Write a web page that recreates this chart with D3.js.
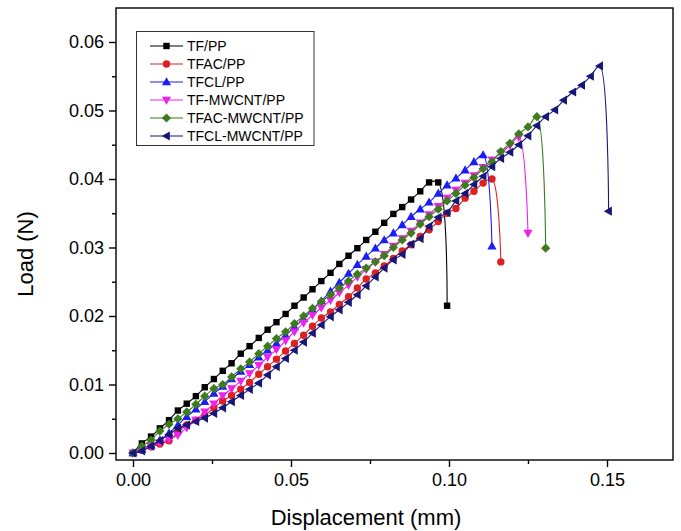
<!DOCTYPE html>
<html>
<head>
<meta charset="utf-8">
<script src="https://cdn.jsdelivr.net/npm/d3@7"></script>
<style>
  html, body { margin: 0; padding: 0; background: #fff; }
  svg { display: block; }
  text { font-family: "Liberation Sans", Arial, Helvetica, sans-serif; fill: #000; }
</style>
</head>
<body>
<svg id="chart" width="681" height="531"></svg>
<script>
// ---------- DATA ----------
const displacement = [0, 0.0028, 0.0057, 0.0085, 0.0114, 0.0142, 0.0170, 0.0199, 0.0227, 0.0256,
  0.0284, 0.0312, 0.0341, 0.0369, 0.0398, 0.0426, 0.0454, 0.0483, 0.0511, 0.0540,
  0.0568, 0.0596, 0.0625, 0.0653, 0.0682, 0.0710, 0.0738, 0.0767, 0.0795, 0.0824,
  0.0852, 0.0880, 0.0909, 0.0937, 0.0966, 0.0994, 0.1022, 0.1051, 0.1079, 0.1108,
  0.1136, 0.1164, 0.1193, 0.1221, 0.1250, 0.1278, 0.1306, 0.1335, 0.1363, 0.1392,
  0.1420, 0.1448, 0.1477, 0.1505];

const seriesNames = ["TF/PP", "TFAC/PP", "TFCL/PP", "TF-MWCNT/PP", "TFAC-MWCNT/PP", "TFCL-MWCNT/PP"];

const loadTF = [0, 0.0014, 0.0024, 0.0036, 0.0048, 0.0062, 0.0072, 0.0083, 0.0096, 0.0108,
  0.0120, 0.0131, 0.0145, 0.0156, 0.0168, 0.0180, 0.0191, 0.0203, 0.0215, 0.0227,
  0.0239, 0.0251, 0.0263, 0.0276, 0.0288, 0.0299, 0.0311, 0.0323, 0.0336, 0.0349,
  0.0359, 0.0370, 0.0382, 0.0395, 0.0395, 0.0215];

const loadTFAC = [0, 0.0004, 0.0009, 0.0013, 0.0018, 0.0030, 0.0041, 0.0048, 0.0055, 0.0066,
  0.0076, 0.0084, 0.0093, 0.0103, 0.0115, 0.0126, 0.0137, 0.0149, 0.0160, 0.0172,
  0.0185, 0.0197, 0.0206, 0.0217, 0.0228, 0.0241, 0.0254, 0.0263, 0.0273, 0.0284,
  0.0295, 0.0304, 0.0316, 0.0326, 0.0338, 0.0350, 0.0357, 0.0372, 0.0382, 0.0394,
  0.0400, 0.0279];

const loadTFCL = [0, 0.0005, 0.0011, 0.0019, 0.0029, 0.0041, 0.0053, 0.0064, 0.0075, 0.0087,
  0.0097, 0.0108, 0.0119, 0.0129, 0.0140, 0.0150, 0.0160, 0.0172, 0.0184, 0.0196,
  0.0209, 0.0222, 0.0236, 0.0249, 0.0262, 0.0275, 0.0287, 0.0299, 0.0311, 0.0321,
  0.0333, 0.0345, 0.0356, 0.0366, 0.0379, 0.0391, 0.0401, 0.0413, 0.0425, 0.0435,
  0.0302];

const loadTFMW = [0, 0.0005, 0.0010, 0.0015, 0.0020, 0.0026, 0.0037, 0.0048, 0.0060, 0.0072,
  0.0084, 0.0094, 0.0105, 0.0116, 0.0128, 0.0140, 0.0151, 0.0164, 0.0177, 0.0190,
  0.0201, 0.0212, 0.0223, 0.0234, 0.0245, 0.0257, 0.0268, 0.0279, 0.0290, 0.0302,
  0.0313, 0.0324, 0.0336, 0.0348, 0.0360, 0.0372, 0.0384, 0.0394, 0.0405, 0.0417,
  0.0428, 0.0438, 0.0449, 0.0461, 0.0321];

const loadTFACMW = [0, 0.0010, 0.0019, 0.0032, 0.0042, 0.0050, 0.0060, 0.0071, 0.0083, 0.0094,
  0.0100, 0.0111, 0.0123, 0.0133, 0.0145, 0.0156, 0.0167, 0.0177, 0.0189, 0.0200,
  0.0211, 0.0221, 0.0231, 0.0241, 0.0251, 0.0261, 0.0270, 0.0279, 0.0288, 0.0300,
  0.0311, 0.0321, 0.0334, 0.0345, 0.0356, 0.0368, 0.0379, 0.0391, 0.0402, 0.0415,
  0.0425, 0.0440, 0.0452, 0.0466, 0.0476, 0.0491, 0.0299];

const loadTFCLMW = [0, 0.0003, 0.0010, 0.0018, 0.0027, 0.0036, 0.0041, 0.0046, 0.0051, 0.0058,
  0.0066, 0.0075, 0.0084, 0.0093, 0.0102, 0.0114, 0.0126, 0.0138, 0.0150, 0.0162,
  0.0175, 0.0187, 0.0199, 0.0209, 0.0220, 0.0231, 0.0244, 0.0257, 0.0270, 0.0282,
  0.0290, 0.0305, 0.0313, 0.0331, 0.0344, 0.0351, 0.0368, 0.0379, 0.0392, 0.0404,
  0.0418, 0.0430, 0.0439, 0.0450, 0.0463, 0.0478, 0.0491, 0.0501, 0.0515, 0.0527,
  0.0537, 0.0550, 0.0565, 0.0353];

const xTicks = [0, 0.05, 0.10, 0.15];
const xMinorTicks = [0.025, 0.075, 0.125];
const yTicks = [0, 0.01, 0.02, 0.03, 0.04, 0.05, 0.06];
const yMinorTicks = [0.005, 0.015, 0.025, 0.035, 0.045, 0.055];

// ---------- STYLE ----------
const colors = ["#000000", "#dd2020", "#1c1cf5", "#ee22ee", "#3d7b1c", "#17177a"];
const markerTypes = ["square", "circle", "triUp", "triDown", "diamond", "triLeft"];

function markerPath(type) {
  switch (type) {
    case "square": return "M-3.2,-3.2H3.2V3.2H-3.2Z";
    case "circle": return "M3.7,0A3.7,3.7 0 1,1 -3.7,0A3.7,3.7 0 1,1 3.7,0Z";
    case "triUp": return "M0,-4.8L4.6,3.3L-4.6,3.3Z";
    case "triDown": return "M0,4.8L4.6,-3.3L-4.6,-3.3Z";
    case "diamond": return "M0,-4.6L4.6,0L0,4.6L-4.6,0Z";
    case "triLeft": return "M-4.8,0L3.3,-4.6L3.3,4.6Z";
  }
}

const loads = [loadTF, loadTFAC, loadTFCL, loadTFMW, loadTFACMW, loadTFCLMW];
const series = seriesNames.map((name, k) => ({
  name,
  color: colors[k],
  marker: markerTypes[k],
  points: loads[k].map((v, i) => ({ x: displacement[i], y: v }))
}));

// ---------- LAYOUT ----------
const svg = d3.select("#chart");
const plotLeft = 116, plotRight = 673, plotTop = 8, plotBottom = 460;

const x = d3.scaleLinear().domain([-0.00538, 0.17089]).range([plotLeft, plotRight]);
const y = d3.scaleLinear().domain([-0.00102, 0.06496]).range([plotBottom, plotTop]);

// frame
svg.append("rect")
  .attr("x", plotLeft).attr("y", plotTop)
  .attr("width", plotRight - plotLeft).attr("height", plotBottom - plotTop)
  .attr("fill", "none").attr("stroke", "#000").attr("stroke-width", 1.4);

// axes
const xAxis = d3.axisBottom(x).tickValues(xTicks).tickFormat(d3.format(".2f")).tickSize(7).tickPadding(6);
const gx = svg.append("g").attr("transform", `translate(0,${plotBottom})`).call(xAxis);
gx.select(".domain").remove();
gx.selectAll("line").attr("stroke", "#000").attr("stroke-width", 1.4);
gx.selectAll("text").attr("font-size", 18).attr("font-family", "Liberation Sans, Arial, sans-serif");

const xMinor = d3.axisBottom(x).tickValues(xMinorTicks).tickFormat("").tickSize(4);
const gxm = svg.append("g").attr("transform", `translate(0,${plotBottom})`).call(xMinor);
gxm.select(".domain").remove();
gxm.selectAll("line").attr("stroke", "#000").attr("stroke-width", 1.4);

const yAxis = d3.axisLeft(y).tickValues(yTicks).tickFormat(d3.format(".2f")).tickSize(7).tickPadding(5);
const gy = svg.append("g").attr("transform", `translate(${plotLeft},0)`).call(yAxis);
gy.select(".domain").remove();
gy.selectAll("line").attr("stroke", "#000").attr("stroke-width", 1.4);
gy.selectAll("text").attr("font-size", 18).attr("font-family", "Liberation Sans, Arial, sans-serif");

const yMinor = d3.axisLeft(y).tickValues(yMinorTicks).tickFormat("").tickSize(4);
const gym = svg.append("g").attr("transform", `translate(${plotLeft},0)`).call(yMinor);
gym.select(".domain").remove();
gym.selectAll("line").attr("stroke", "#000").attr("stroke-width", 1.4);

// axis titles
svg.append("text")
  .attr("x", 366).attr("y", 525)
  .attr("text-anchor", "middle").attr("font-size", 22)
  .text("Displacement (mm)");

svg.append("text")
  .attr("transform", "translate(33,254) rotate(-90)")
  .attr("text-anchor", "middle").attr("font-size", 22)
  .text("Load (N)");

// series
const line = d3.line().x(d => x(d.x)).y(d => y(d.y)).curve(d3.curveCatmullRom.alpha(0.5));

series.forEach(s => {
  const g = svg.append("g");
  g.append("path")
    .attr("d", line(s.points))
    .attr("fill", "none").attr("stroke", s.color).attr("stroke-width", 1.1);
  g.selectAll("path.m").data(s.points).enter().append("path")
    .attr("class", "m")
    .attr("d", markerPath(s.marker))
    .attr("transform", d => `translate(${x(d.x)},${y(d.y)})`)
    .attr("fill", s.color);
});

// legend
const lg = svg.append("g");
lg.append("rect")
  .attr("x", 136.5).attr("y", 31.5).attr("width", 177.5).attr("height", 114)
  .attr("fill", "#fff").attr("stroke", "#333").attr("stroke-width", 1);
series.forEach((s, k) => {
  const cy = 46 + k * 18;
  lg.append("line").attr("x1", 150).attr("x2", 183).attr("y1", cy).attr("y2", cy)
    .attr("stroke", s.color).attr("stroke-width", 1.1);
  lg.append("path").attr("d", markerPath(s.marker))
    .attr("transform", `translate(166.5,${cy})`).attr("fill", s.color);
  lg.append("text").attr("x", 187).attr("y", cy + 5).attr("font-size", 14).text(s.name);
});
</script>
</body>
</html>
